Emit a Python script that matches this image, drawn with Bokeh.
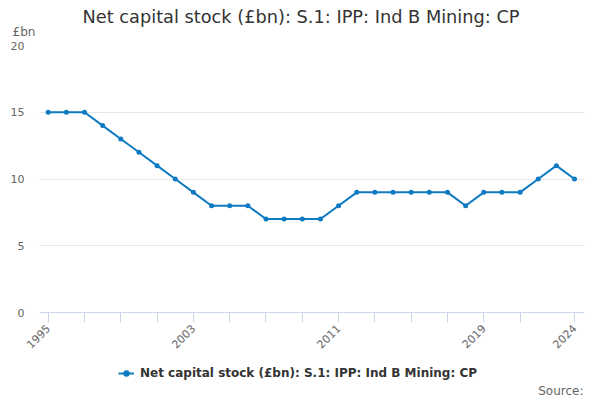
import math
from bokeh.plotting import figure
from bokeh.layouts import column
from bokeh.models import Range1d, FixedTicker, Legend, LegendItem, ColumnDataSource, Title, Label
from bokeh.embed import file_html
from bokeh.resources import INLINE

# ---- data ----
years = [1995, 1996, 1997, 1998, 1999, 2000, 2001, 2002, 2003, 2004,
         2005, 2006, 2007, 2008, 2009, 2010, 2011, 2012, 2013, 2014,
         2015, 2016, 2017, 2018, 2019, 2020, 2021, 2022, 2023, 2024]
values = [15, 15, 15, 14, 13, 12, 11, 10, 9, 8,
          8, 8, 7, 7, 7, 7, 8, 9, 9, 9,
          9, 9, 9, 8, 9, 9, 9, 10, 11, 10]
x_ticks = [1995, 1997, 1999, 2001, 2003, 2005, 2007, 2009, 2011, 2013,
           2015, 2017, 2019, 2021, 2024]
x_tick_labels = {1995: "1995", 2003: "2003", 2011: "2011", 2019: "2019", 2024: "2024"}
y_ticks = [0, 5, 10, 15, 20]
series_name = "Net capital stock (£bn): S.1: IPP: Ind B Mining: CP"
title_text = "Net capital stock (£bn): S.1: IPP: Ind B Mining: CP"
y_unit = "£bn"
source_text = "Source:"

BLUE = "#0d7ac2"
FONT = "DejaVu Sans"

src = ColumnDataSource(dict(x=years, y=values))

# ---- main chart ----
p = figure(width=600, height=356, output_backend="svg", toolbar_location=None,
           x_range=Range1d(1994.52, 2024.55), y_range=Range1d(0, 20),
           min_border_left=39, min_border_right=16, min_border_top=45, min_border_bottom=44)
p.outline_line_color = None

xa = p.xaxis[0]
xa.ticker = FixedTicker(ticks=x_ticks)
xa.major_label_overrides = {t: x_tick_labels.get(t, "") for t in x_ticks}
xa.major_tick_out = 10
xa.major_tick_in = 0
xa.minor_tick_line_color = None
xa.axis_line_color = "#ccd6eb"
xa.major_tick_line_color = "#ccd6eb"
xa.major_label_orientation = math.pi / 4
xa.major_label_text_color = "#666666"
xa.major_label_text_font = FONT
xa.major_label_text_font_size = "11px"
xa.major_label_standoff = 4

ya = p.yaxis[0]
ya.ticker = FixedTicker(ticks=y_ticks)
ya.axis_line_color = None
ya.major_tick_line_color = None
ya.minor_tick_line_color = None
ya.major_tick_out = 0
ya.major_tick_in = 0
ya.major_label_standoff = 15
ya.major_label_text_color = "#666666"
ya.major_label_text_font = FONT
ya.major_label_text_font_size = "11px"

p.xgrid.grid_line_color = None
p.ygrid.grid_line_color = "#e6e6e6"
p.ygrid.grid_line_width = 1

ln = p.line("x", "y", source=src, line_color=BLUE, line_width=2)
sc = p.scatter("x", "y", source=src, marker="circle", size=5, fill_color=BLUE, line_width=0)

# unit label and title (above panel)
p.add_layout(Title(text=y_unit, align="left", offset=-27, standoff=14, vertical_align="bottom",
                   text_font=FONT, text_font_size="12px", text_font_style="normal",
                   text_color="#666666"), "above")
p.title.text = title_text
p.title.align = "left"
p.title.offset = 43
p.title.standoff = -23
p.title.vertical_align = "bottom"
p.title.text_font = FONT
p.title.text_font_size = "17.75px"
p.title.text_font_style = "normal"
p.title.text_color = "#333333"

# ---- legend strip ----
lf = figure(width=600, height=44, output_backend="svg", toolbar_location=None,
            x_range=Range1d(0, 1), y_range=Range1d(0, 1),
            x_axis_type=None, y_axis_type=None,
            min_border_left=0, min_border_right=0, min_border_top=0, min_border_bottom=0)
lf.outline_line_color = None
lln = lf.line("x", "y", source=src, line_color=BLUE, line_width=2)
lsc = lf.scatter("x", "y", source=src, marker="circle", size=5, fill_color=BLUE, line_width=0)

legend = Legend(items=[LegendItem(label=series_name, renderers=[lln, lsc])],
                location=(79, 17), padding=0, margin=0, border_line_color=None,
                background_fill_alpha=0, glyph_width=16, glyph_height=20, label_height=20,
                label_standoff=6, label_text_font=FONT, label_text_font_size="12px",
                label_text_font_style="bold", label_text_color="#333333",
                label_text_baseline="middle")
lf.add_layout(legend)

lf.add_layout(Label(x=544, y=10, x_units="screen", y_units="screen", text=source_text,
                    text_align="right", text_baseline="middle", text_font=FONT,
                    text_font_size="12px", text_color="#666666"))

layout = column(p, lf, spacing=0)
open("out.html", "w").write(file_html(layout, INLINE))
